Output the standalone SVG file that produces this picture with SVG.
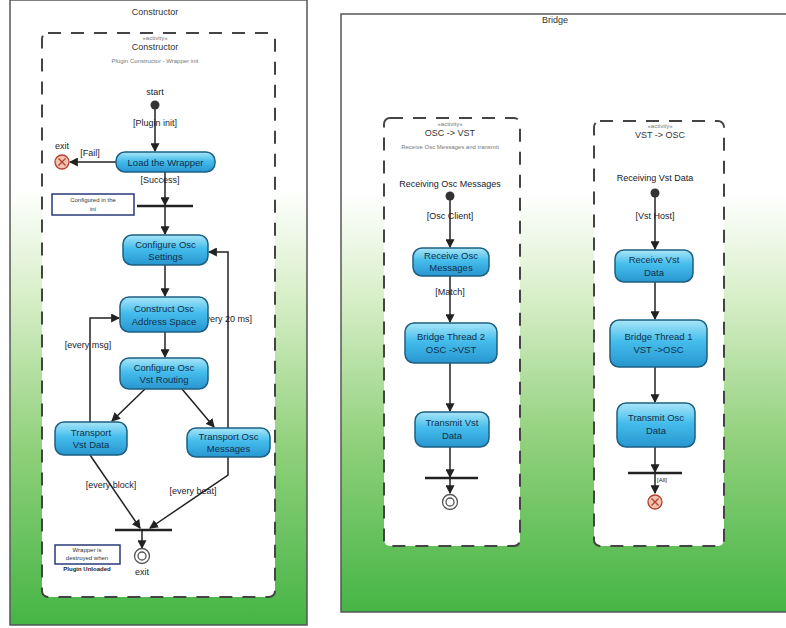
<svg xmlns="http://www.w3.org/2000/svg" width="786" height="628" viewBox="0 0 786 628">
<defs>
<linearGradient id="bg" x1="0" y1="0" x2="0" y2="1">
<stop offset="0" stop-color="#ffffff"/>
<stop offset="0.3" stop-color="#ffffff"/>
<stop offset="0.48" stop-color="#d6eec6"/>
<stop offset="0.72" stop-color="#8fd07a"/>
<stop offset="1" stop-color="#45b545"/>
</linearGradient>
<linearGradient id="node" x1="0" y1="0" x2="0" y2="1">
<stop offset="0" stop-color="#a8e6f8"/>
<stop offset="0.45" stop-color="#45bdec"/>
<stop offset="1" stop-color="#2896d0"/>
</linearGradient>
<marker id="arr" viewBox="0 0 8 8" refX="7" refY="4" markerWidth="6" markerHeight="6" orient="auto">
<path d="M0,0 L8,4 L0,8 z" fill="#222"/>
</marker>
</defs>
<style>
.frame{fill:url(#bg);stroke:#555;stroke-width:1.5}
.lane{fill:#ffffff;stroke:#444;stroke-width:2;stroke-dasharray:13 10}
.act{fill:url(#node);stroke:#1d5f80;stroke-width:1.5}
.t{font-family:"Liberation Sans",Arial,sans-serif;font-size:9px;fill:#1a1a2a;text-anchor:middle}
.nt{font-family:"Liberation Sans",Arial,sans-serif;font-size:9.5px;fill:#10304a;text-anchor:middle}
.s{font-family:"Liberation Sans",Arial,sans-serif;font-size:6px;fill:#777;text-anchor:middle}
.ttl{font-family:"Liberation Sans",Arial,sans-serif;font-size:9px;fill:#333;text-anchor:middle}
.e{fill:none;stroke:#222;stroke-width:1.5}
.bar{stroke:#222;stroke-width:2.5}
.note{fill:#fff;stroke:#2a3b7a;stroke-width:1.5}
</style>
<rect width="786" height="628" fill="#ffffff"/>
<!-- Left panel -->
<g id="constructor-panel">
<rect class="frame" x="10" y="0" width="297" height="625"/>
<text class="ttl" x="155" y="15">Constructor</text>
<rect class="lane" x="42" y="33" width="233" height="564" rx="6"/>
<text class="s" x="155" y="40">«activity»</text>
<text class="ttl" x="155" y="50">Constructor</text>
<text class="s" x="155" y="63">Plugin Constructor - Wrapper init</text>
</g>
<g id="connectors-left">
<path class="e" d="M155,105 V151" marker-end="url(#arr)"/>
<path class="e" d="M116,162 H70" marker-end="url(#arr)"/>
<path class="e" d="M165,172 V205" marker-end="url(#arr)"/>
<path class="e" d="M165,207 V234" marker-end="url(#arr)"/>
<path class="e" d="M165,265 V296" marker-end="url(#arr)"/>
<path class="e" d="M165,332 V357" marker-end="url(#arr)"/>
<path class="e" d="M145,389 L112,421" marker-end="url(#arr)"/>
<path class="e" d="M182,389 L214,427" marker-end="url(#arr)"/>
<path class="e" d="M228,428 V252 H209" marker-end="url(#arr)"/>
<path class="e" d="M90,422 V318 H119" marker-end="url(#arr)"/>
<path class="e" d="M90,455 L140,528" marker-end="url(#arr)"/>
<path class="e" d="M228,457 V475 L150,528" marker-end="url(#arr)"/>
<path class="e" d="M142,531 V548" marker-end="url(#arr)"/>
<line class="bar" x1="137" y1="206" x2="193" y2="206"/>
<line class="bar" x1="115" y1="530" x2="172" y2="530"/>
<text class="t" x="155" y="126">[Plugin init]</text>
<text class="t" x="90" y="156">[Fail]</text>
<text class="t" x="160" y="183">[Success]</text>
<text class="t" x="225" y="322">[every 20 ms]</text>
<text class="t" x="88" y="348">[every msg]</text>
<text class="t" x="111" y="488">[every block]</text>
<text class="t" x="193" y="494">[every beat]</text>
</g>
<g id="start-left">
<text class="t" x="155" y="95">start</text>
<circle cx="155" cy="105" r="4.5" fill="#333"/>
</g>
<g id="exit-fail">
<text class="t" x="62" y="149">exit</text>
<circle cx="62" cy="162" r="7" fill="#f3c2b0" stroke="#b04030" stroke-width="1.3"/>
<path d="M58.5,158.5 L65.5,165.5 M65.5,158.5 L58.5,165.5" stroke="#b04030" stroke-width="1.3"/>
</g>
<g id="load-wrapper">
<rect class="act" x="116" y="152" width="99" height="20" rx="9"/>
<text class="nt" x="165.5" y="165.5">Load the Wrapper</text>
</g>
<g id="note-ini">
<rect class="note" x="52" y="194" width="82" height="21"/>
<text class="s" x="93" y="202" style="fill:#333">Configured in the</text>
<text class="s" x="93" y="211" style="fill:#333">ini</text>
</g>
<g id="configure-osc-settings">
<rect class="act" x="123" y="235" width="85" height="30" rx="9"/>
<text class="nt" x="165.5" y="248">Configure Osc</text>
<text class="nt" x="165.5" y="260">Settings</text>
</g>
<g id="construct-address-space">
<rect class="act" x="120" y="297" width="88" height="35" rx="9"/>
<text class="nt" x="164" y="312">Construct Osc</text>
<text class="nt" x="164" y="325">Address Space</text>
</g>
<g id="configure-vst-routing">
<rect class="act" x="120" y="358" width="88" height="31" rx="9"/>
<text class="nt" x="164" y="371">Configure Osc</text>
<text class="nt" x="164" y="383">Vst Routing</text>
</g>
<g id="transport-vst-data">
<rect class="act" x="55" y="422" width="72" height="33" rx="9"/>
<text class="nt" x="91" y="436">Transport</text>
<text class="nt" x="91" y="448">Vst Data</text>
</g>
<g id="transport-osc-messages">
<rect class="act" x="187" y="428" width="83" height="29" rx="9"/>
<text class="nt" x="228.5" y="440">Transport Osc</text>
<text class="nt" x="228.5" y="452">Messages</text>
</g>
<g id="final-left">
<circle cx="142" cy="556" r="7.5" fill="#fff" stroke="#555" stroke-width="1.3"/>
<circle cx="142" cy="556" r="4" fill="#fff" stroke="#555" stroke-width="1.3"/>
<text class="t" x="142" y="575">exit</text>
</g>
<g id="note-unload">
<rect class="note" x="55" y="545" width="65" height="19"/>
<text class="s" x="87" y="552" style="fill:#333">Wrapper is</text>
<text class="s" x="87" y="560" style="fill:#333">destroyed when</text>
<text class="s" x="87" y="571" style="fill:#223;font-weight:bold">Plugin Unloaded</text>
</g>
<!-- Right panel -->
<g id="bridge-panel">
<path d="M341,14 H786 V612 H341 Z" fill="url(#bg)"/>
<path d="M786,14 H341 V612 H786" fill="none" stroke="#555" stroke-width="1.5"/>
<text class="ttl" x="555" y="23">Bridge</text>
</g>
<g id="lane-osc-vst">
<rect class="lane" x="384" y="118" width="136" height="428" rx="6"/>
<text class="s" x="450" y="126">«activity»</text>
<text class="ttl" x="450" y="136">OSC -&gt; VST</text>
<text class="s" x="450" y="149">Receive Osc Messages and transmit</text>
</g>
<g id="lane-vst-osc">
<rect class="lane" x="594" y="121" width="130" height="425" rx="6"/>
<text class="s" x="660" y="128">«activity»</text>
<text class="ttl" x="660" y="138">VST -&gt; OSC</text>
</g>
<g id="connectors-right">
<path class="e" d="M450,196 V247" marker-end="url(#arr)"/>
<path class="e" d="M450,276 V322" marker-end="url(#arr)"/>
<path class="e" d="M450,363 V411" marker-end="url(#arr)"/>
<path class="e" d="M450,447 V477" marker-end="url(#arr)"/>
<path class="e" d="M450,479 V493" marker-end="url(#arr)"/>
<line class="bar" x1="425" y1="478" x2="478" y2="478"/>
<path class="e" d="M655,193 V249" marker-end="url(#arr)"/>
<path class="e" d="M655,282 V319" marker-end="url(#arr)"/>
<path class="e" d="M655,367 V402" marker-end="url(#arr)"/>
<path class="e" d="M655,447 V472" marker-end="url(#arr)"/>
<path class="e" d="M655,474 V493" marker-end="url(#arr)"/>
<line class="bar" x1="628" y1="473" x2="682" y2="473"/>
<text class="t" x="450" y="219">[Osc Client]</text>
<text class="t" x="450" y="295">[Match]</text>
<text class="t" x="655" y="219">[Vst Host]</text>
<text class="s" x="662" y="482" style="fill:#222">[All]</text>
</g>
<g id="start-osc">
<text class="t" x="450" y="187">Receiving Osc Messages</text>
<circle cx="450" cy="196" r="4.5" fill="#333"/>
</g>
<g id="receive-osc-messages">
<rect class="act" x="413" y="248" width="76" height="28" rx="9"/>
<text class="nt" x="451" y="259">Receive Osc</text>
<text class="nt" x="451" y="271">Messages</text>
</g>
<g id="bridge-thread-2">
<rect class="act" x="405" y="323" width="92" height="40" rx="9"/>
<text class="nt" x="451" y="340">Bridge Thread 2</text>
<text class="nt" x="451" y="353">OSC -&gt;VST</text>
</g>
<g id="transmit-vst-data">
<rect class="act" x="415" y="412" width="74" height="35" rx="9"/>
<text class="nt" x="452" y="426">Transmit Vst</text>
<text class="nt" x="452" y="439">Data</text>
</g>
<g id="final-osc">
<circle cx="450" cy="502" r="7.5" fill="#fff" stroke="#555" stroke-width="1.3"/>
<circle cx="450" cy="502" r="4" fill="#fff" stroke="#555" stroke-width="1.3"/>
</g>
<g id="start-vst">
<text class="t" x="655" y="181">Receiving Vst Data</text>
<circle cx="655" cy="193" r="4.5" fill="#333"/>
</g>
<g id="receive-vst-data">
<rect class="act" x="615" y="250" width="78" height="32" rx="9"/>
<text class="nt" x="654" y="263">Receive Vst</text>
<text class="nt" x="654" y="276">Data</text>
</g>
<g id="bridge-thread-1">
<rect class="act" x="610" y="320" width="97" height="47" rx="9"/>
<text class="nt" x="658.5" y="340">Bridge Thread 1</text>
<text class="nt" x="658.5" y="353">VST -&gt;OSC</text>
</g>
<g id="transmit-osc-data">
<rect class="act" x="617" y="403" width="78" height="44" rx="9"/>
<text class="nt" x="656" y="421">Transmit Osc</text>
<text class="nt" x="656" y="434">Data</text>
</g>
<g id="exit-vst">
<circle cx="655" cy="502" r="7" fill="#f3c2b0" stroke="#b04030" stroke-width="1.3"/>
<path d="M651.5,498.5 L658.5,505.5 M658.5,498.5 L651.5,505.5" stroke="#b04030" stroke-width="1.3"/>
</g>
</svg>
